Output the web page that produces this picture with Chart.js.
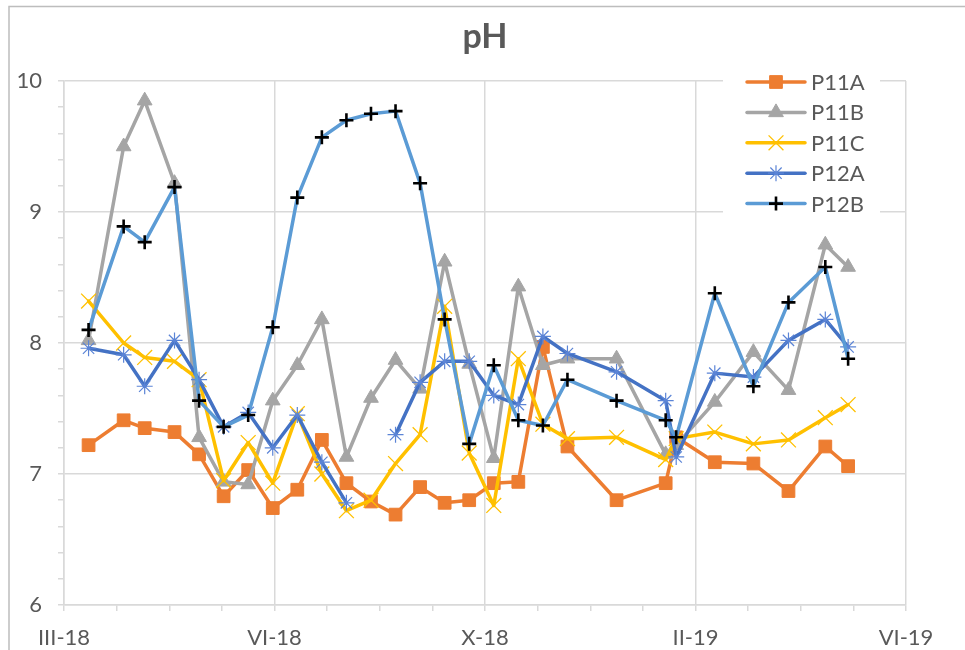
<!DOCTYPE html>
<html>
<head>
<meta charset="utf-8">
<title>pH</title>
<script src="https://cdn.jsdelivr.net/npm/chart.js@4/dist/chart.umd.min.js"></script>
<style>
  html, body { margin: 0; padding: 0; background: #ffffff; }
  #wrap { width: 965px; height: 650px; position: relative; }
</style>
</head>
<body>
<div id="wrap"><canvas id="ph"></canvas></div>
<script>
// Sampling dates shared by all five wells
const sampleDates = [
  '2018-03-15', '2018-04-04', '2018-04-16', '2018-05-03', '2018-05-17', '2018-05-31',
  '2018-06-14', '2018-06-28', '2018-07-12', '2018-07-26', '2018-08-09', '2018-08-23',
  '2018-09-06', '2018-09-20', '2018-10-04', '2018-10-18', '2018-11-01', '2018-11-15',
  '2018-11-29', '2018-12-13', '2019-01-10', '2019-02-07', '2019-02-13', '2019-03-07',
  '2019-03-29', '2019-04-18', '2019-05-09', '2019-05-22'
];

// pH readings per well (null = no measurement)
const p11a = [7.22, 7.41, 7.35, 7.32, 7.15, 6.83, 7.03, 6.74, 6.88, 7.26, 6.93, 6.79, 6.69, 6.90,
              6.78, 6.80, 6.93, 6.94, 7.97, 7.21, 6.80, 6.93, 7.28, 7.09, 7.08, 6.87, 7.21, 7.06];
const p11b = [8.02, 9.50, 9.85, 9.22, 7.28, 6.94, 6.92, 7.56, 7.83, 8.18, 7.13, 7.58, 7.87, 7.65,
              8.62, 7.84, 7.12, 8.43, 7.83, 7.88, 7.88, 7.15, 7.22, 7.55, 7.93, 7.64, 8.75, 8.58];
const p11c = [8.32, 8.00, 7.89, 7.86, 7.72, 6.95, 7.24, 6.93, 7.46, 7.00, 6.72, 6.80, 7.08, 7.30,
              8.28, 7.16, 6.76, 7.88, 7.38, 7.27, 7.28, 7.11, 7.27, 7.32, 7.23, 7.26, 7.43, 7.53];
const p12a = [7.96, 7.91, 7.67, 8.02, 7.72, 7.36, 7.47, 7.20, 7.45, 7.09, 6.78, null, 7.30, 7.70,
              7.86, 7.86, 7.60, 7.53, 8.05, 7.92, 7.78, 7.56, 7.13, 7.77, 7.74, 8.02, 8.18, 7.97];
const p12b = [8.10, 8.89, 8.77, 9.19, 7.56, 7.36, 7.45, 8.12, 9.11, 9.57, 9.70, 9.75, 9.77, 9.22,
              8.18, 7.23, 7.83, 7.41, 7.37, 7.72, 7.56, 7.41, 7.28, 8.38, 7.67, 8.31, 8.58, 7.88];

// Date axis: day offsets from the axis start, labelled every 120 days
const axisStart = '2018-03-01';
const axisLengthDays = 480;
const majorStepDays = 120;
const minorStepDays = 30;
const xTickLabels = ['III-18', 'VI-18', 'X-18', 'II-19', 'VI-19'];

const yMin = 6, yMax = 10, yMinorStep = 0.2;

const DAY = 86400000;
const t0 = Date.parse(axisStart);
const dayOf = d => Math.round((Date.parse(d) - t0) / DAY);
const points = vals => sampleDates.map((d, i) => ({ x: dayOf(d), y: vals[i] }));

const FONT = 'Lato, "Liberation Sans", "DejaVu Sans", sans-serif';
const TEXT = '#595959';
const GRID = '#d9d9d9';

function series(label, vals, color, style, o) {
  return Object.assign({
    label,
    data: points(vals),
    borderColor: color,
    backgroundColor: color,
    borderWidth: 3.5,
    borderJoinStyle: 'round',
    borderCapStyle: 'round',
    pointStyle: style,
    pointBackgroundColor: color,
    pointBorderColor: color,
    pointBorderWidth: 1,
    pointHoverRadius: 0,
    tension: 0,
    spanGaps: false
  }, o);
}

const datasets = [
  series('P11A', p11a, '#ED7D31', 'rect', { pointRadius: 9, order: 5 }),
  series('P11B', p11b, '#A5A5A5', 'triangle', { pointRadius: 8.5, order: 4 }),
  series('P11C', p11c, '#FFC000', 'crossRot', { pointRadius: 10.5, pointBorderWidth: 1.3, order: 3 }),
  series('P12A', p12a, '#4472C4', 'star', { pointRadius: 8, pointBorderWidth: 1.2,
                                             pointBorderColor: '#5B84D6', order: 2 }),
  series('P12B', p12b, '#5B9BD5', 'cross', { pointRadius: 7, pointBorderWidth: 2.6,
                                              pointBorderColor: '#000000',
                                              pointBackgroundColor: '#000000', order: 1 })
];

const isWhole = v => Math.abs(v - Math.round(v)) < 1e-6;
const isMajorDay = v => Math.abs(v / majorStepDays - Math.round(v / majorStepDays)) < 1e-6;

// Thin frame around the chart
const frame = {
  id: 'frame',
  beforeDraw(chart) {
    const ctx = chart.ctx;
    ctx.save();
    ctx.strokeStyle = '#bdbdbd';
    ctx.lineWidth = 1.5;
    ctx.beginPath();
    ctx.moveTo(chart.width, 6.5);
    ctx.lineTo(9, 6.5);
    ctx.lineTo(9, chart.height);
    ctx.stroke();
    ctx.restore();
  }
};

// Legend panel laid over the top-right corner of the plot
const legendPanel = {
  id: 'legendPanel',
  afterDatasetsDraw(chart) {
    const { ctx, chartArea } = chart;
    const left = chartArea.right - 183;
    const top = chartArea.top - 14;
    const rowH = 30.4;
    ctx.save();
    ctx.fillStyle = '#ffffff';
    ctx.fillRect(left, top, 157, 160);
    ctx.font = '22px ' + FONT;
    ctx.textBaseline = 'middle';
    ctx.textAlign = 'left';
    chart.data.datasets.forEach((ds, i) => {
      const y = chartArea.top + 1 + i * rowH;
      const x1 = left + 24, x2 = left + 82, xm = (x1 + x2) / 2;
      ctx.strokeStyle = ds.borderColor;
      ctx.lineWidth = ds.borderWidth;
      ctx.lineCap = 'round';
      ctx.beginPath();
      ctx.moveTo(x1, y);
      ctx.lineTo(x2, y);
      ctx.stroke();
      ctx.fillStyle = ds.pointBackgroundColor;
      ctx.strokeStyle = ds.pointBorderColor;
      ctx.lineWidth = ds.pointBorderWidth;
      ctx.lineCap = 'butt';
      Chart.helpers.drawPoint(ctx, {
        pointStyle: ds.pointStyle, radius: ds.pointRadius, rotation: 0,
        borderWidth: ds.pointBorderWidth
      }, xm, y);
      ctx.fillStyle = TEXT;
      ctx.fillText(ds.label, left + 88, y + 1);
    });
    ctx.restore();
  }
};

new Chart(document.getElementById('ph'), {
  type: 'line',
  data: { datasets },
  plugins: [frame, legendPanel],
  options: {
    responsive: true,
    maintainAspectRatio: false,
    animation: false,
    events: [],
    layout: { padding: { left: 0, right: 59, top: 0, bottom: 0 } },
    plugins: {
      legend: { display: false },
      tooltip: { enabled: false },
      title: {
        display: true,
        fullSize: false,
        text: 'pH',
        color: TEXT,
        font: { family: FONT, size: 34, weight: 'bold', lineHeight: 1.2 },
        padding: { top: 17, bottom: 23.2 }
      }
    },
    scales: {
      x: {
        type: 'linear',
        min: 0,
        max: axisLengthDays,
        afterFit(s) { s.height = 45; },
        ticks: {
          stepSize: minorStepDays,
          autoSkip: false,
          maxRotation: 0,
          padding: 14,
          color: TEXT,
          font: { family: FONT, size: 22 },
          callback: v => isMajorDay(v) ? (xTickLabels[Math.round(v / majorStepDays)] || '') : ''
        },
        grid: {
          color: c => (c.tick && isMajorDay(c.tick.value)) ? GRID : 'rgba(0,0,0,0)',
          lineWidth: 1.5,
          tickColor: GRID,
          tickWidth: 1.5,
          tickLength: 6,
          drawTicks: true
        },
        border: { display: true, color: GRID, width: 1.5 }
      },
      y: {
        min: yMin,
        max: yMax,
        afterFit(s) { s.width = 64; },
        ticks: {
          stepSize: yMinorStep,
          autoSkip: false,
          padding: 16,
          color: TEXT,
          font: { family: FONT, size: 22 },
          callback: v => isWhole(v) ? String(Math.round(v)) : ''
        },
        grid: {
          color: c => (c.tick && isWhole(c.tick.value)) ? GRID : 'rgba(0,0,0,0)',
          lineWidth: 1.5,
          tickColor: GRID,
          tickWidth: 1.5,
          tickLength: 6,
          drawTicks: true
        },
        border: { display: true, color: GRID, width: 1.5 }
      }
    }
  }
});
</script>
</body>
</html>
